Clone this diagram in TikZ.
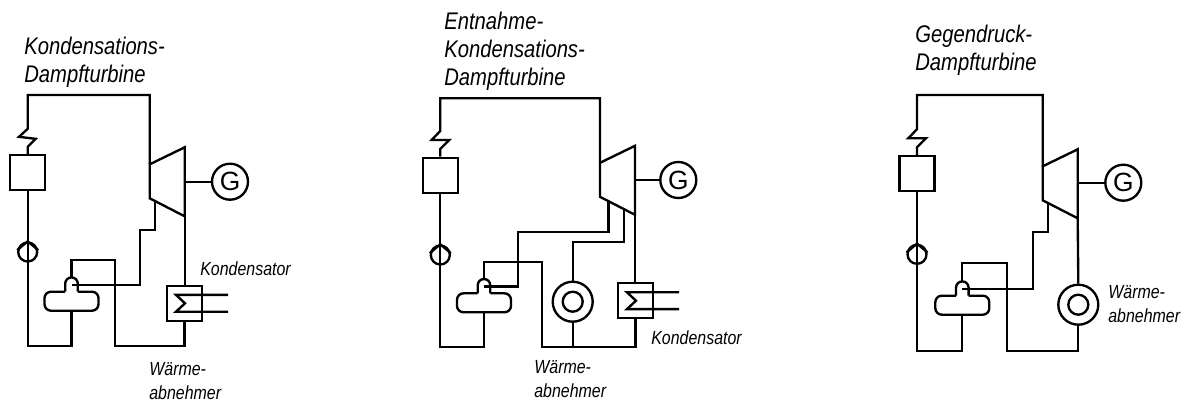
\documentclass[tikz,border=0pt]{standalone}
\usepackage{fontspec}
\setmainfont{Liberation Sans}
\newfontfamily\narrowsans[FakeStretch=0.84]{Liberation Sans}
\usetikzlibrary{calc}
\tikzset{
pipe/.style={line width=0.047cm,line join=miter},
title/.style={inner sep=0,anchor=north west,align=left,font=\fontsize{13.7}{15.9}\narrowsans\itshape},
caption/.style={inner sep=0,anchor=north west,align=left,font=\fontsize{10.8}{13.6}\narrowsans\itshape},
boiler/.style={pipe,draw,rectangle,minimum size=0.7cm,inner sep=0},
pump/.style={pipe,draw,circle,minimum size=0.38cm,inner sep=0},
gen/.style={pipe,draw,circle,minimum size=0.72cm,inner sep=0,font=\fontsize{15}{15}\selectfont},
turbine/.pic={
\draw[pipe] (0,-17) -- (35,-34) -- (35,35) -- (0,17) -- cycle;
\coordinate (-high) at (0,-17);
\coordinate (-low) at (0,17);
\coordinate (-bot) at (35,35);
},
tank/.pic={
\draw[pipe,rounded corners=0.13cm] (-6.3,0) -- (-27,0) -- (-27,19) -- (27,19) -- (27,0) -- (6.3,0);
\draw[pipe] (-6.3,0) -- (-6.3,-8) arc[start angle=180,end angle=0,radius=0.126cm] -- (6.3,0);
\coordinate (-top) at (0,-14.5);
\coordinate (-bot) at (0,19);
\coordinate (-in) at (0,-6.7);
},
condenser/.pic={
\node[boiler] (-box) at (0,0) {};
\draw[pipe] (43.5,-8.4) -- (-8.5,-8.4) -- (0.5,0) -- (-8.5,8.4) -- (43.5,8.4);
},
heat/.pic={
\node[pipe,draw,circle,minimum size=0.8cm,inner sep=0] (-ring) at (0,0) {};
\draw[pipe] (0,0) circle (0.2cm);
}
}
\begin{document}
\begin{tikzpicture}[x=0.02cm,y=-0.02cm]
\useasboundingbox (0,0) rectangle (1190,403);
\node[title] (titleA) at (24,37) {Kondensations-\\Dampfturbine};
\node[boiler] (boilerA) at (27.7,172.5) {};
\node[pump] (pumpA) at (27.7,252) {};
\node[gen] (genA) at (230,181.7) {G};
\pic (turbA) at (149.7,181.3) {turbine};
\pic (tankA) at (71.5,291.7) {tank};
\pic (condA) at (184.5,303.3) {condenser};
\coordinate (steamA) at (149.7,95);
\coordinate (retA) at (27.7,346);
\coordinate (feedA) at (115.3,260);
\coordinate (bleedA) at (140,230);
\draw[pipe] (boilerA.north) -- ++(0,-7) -- ++(8,-8) -- ++(-16.7,-2) -- ++(8.7,-8) |- (steamA) -- (turbA-high);
\draw[pipe] (boilerA.south) -- (retA) -| (tankA-bot);
\draw[pipe] (pumpA.170) -- (pumpA.north) -- (pumpA.10);
\draw[pipe] (tankA-top) |- (feedA) -- (feedA |- retA) -| (condA-box.south);
\draw[pipe] ($(turbA-low)!0.16!(turbA-bot)$) |- (bleedA) |- (tankA-in);
\draw[pipe] (turbA-bot) -- (turbA-bot |- condA-box.north);
\draw[pipe] (genA.west) -- (genA.west -| turbA-bot);
\node[caption] (kondA) at (200,261) {Kondensator};
\node[caption] (waermeA) at (149,362) {Wärme-\\abnehmer};

\node[title] (titleB) at (444,11.5) {Entnahme-\\Kondensations-\\Dampfturbine};
\node[boiler] (boilerB) at (440.3,175.3) {};
\node[pump] (pumpB) at (440.3,255) {};
\node[gen] (genB) at (678.3,180) {G};
\pic (turbB) at (600,179.8) {turbine};
\pic (tankB) at (484,293.3) {tank};
\pic (condB) at (635.5,300.7) {condenser};
\pic (heatB) at (572.7,301.7) {heat};
\coordinate (steamB) at (600,98.3);
\coordinate (retB) at (440.3,347.3);
\coordinate (feedB) at (542.3,262.3);
\coordinate (bleedB) at (518.3,232.3);
\coordinate (bleedC) at (572.7,242.3);
\draw[pipe] (boilerB.north) -- ++(0,-7.7) -- ++(9,-9) -- ++(-17.6,0) -- ++(8.6,-9) |- (steamB) -- (turbB-high);
\draw[pipe] (boilerB.south) -- (retB) -| (tankB-bot);
\draw[pipe] (pumpB.170) -- (pumpB.north) -- (pumpB.10);
\draw[pipe] (tankB-top) |- (feedB) -- (feedB |- retB) -| (condB-box.south);
\draw[pipe] ($(turbB-low)!0.24!(turbB-bot)$) |- (bleedB) |- (tankB-in);
\draw[pipe] ($(turbB-low)!0.686!(turbB-bot)$) |- (bleedC) -- (heatB-ring.north);
\draw[pipe] (heatB-ring.south) -- (heatB-ring.south |- retB);
\draw[pipe] (turbB-bot) -- (turbB-bot |- condB-box.north);
\draw[pipe] (genB.west) -- (genB.west -| turbB-bot);
\node[caption] (kondB) at (651,330) {Kondensator};
\node[caption] (waermeB) at (534,360) {Wärme-\\abnehmer};

\node[title] (titleC) at (915,25) {Gegendruck-\\Dampfturbine};
\node[boiler] (boilerC) at (917,173.6) {};
\node[pump] (pumpC) at (917,254.3) {};
\node[gen] (genC) at (1123.3,182.7) {G};
\pic (turbC) at (1042.7,183.3) {turbine};
\pic (tankC) at (962.3,295.7) {tank};
\pic (heatC) at (1078.3,304.7) {heat};
\coordinate (steamC) at (1042.7,95);
\coordinate (retC) at (917,351);
\coordinate (feedC) at (1006.7,263);
\coordinate (bleedD) at (1032.7,232.3);
\draw[pipe] (boilerC.north) -- ++(0,-7.7) -- ++(9,-9) -- ++(-17.7,0) -- ++(8.7,-9) |- (steamC) -- (turbC-high);
\draw[pipe] (boilerC.south) -- (retC) -| (tankC-bot);
\draw[pipe] (pumpC.170) -- (pumpC.north) -- (pumpC.10);
\draw[pipe] (tankC-top) |- (feedC) -- (feedC |- retC) -| (heatC-ring.south);
\draw[pipe] ($(turbC-low)!0.15!(turbC-bot)$) |- (bleedD) |- (tankC-in);
\draw[pipe] (turbC-bot) -- (heatC-ring.north);
\draw[pipe] (genC.west) -- (genC.west -| turbC-bot);
\node[caption] (waermeC) at (1108,285) {Wärme-\\abnehmer};
\end{tikzpicture}
\end{document}
